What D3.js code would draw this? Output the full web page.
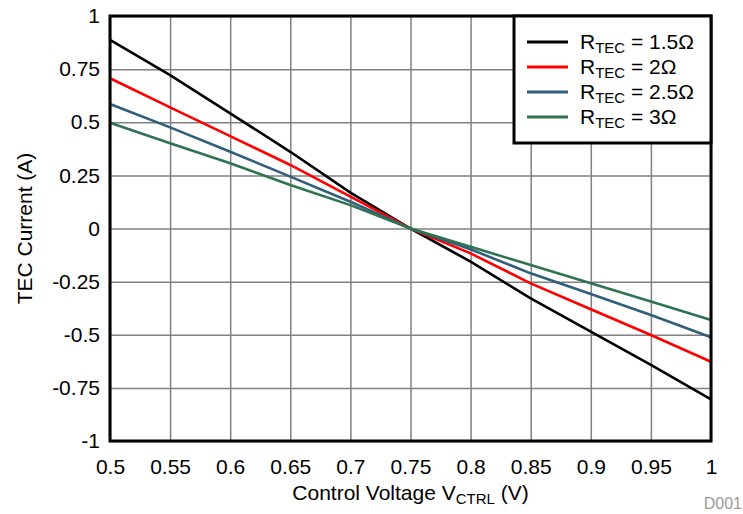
<!DOCTYPE html>
<html>
<head>
<meta charset="utf-8">
<script src="https://cdn.jsdelivr.net/npm/d3@7"></script>
<style>
  body { margin: 0; background: #fff; }
  text { font-family: Arial, "Liberation Sans", sans-serif; }
</style>
</head>
<body>
<div id="chart"></div>
<script>
const voltage = [0.5, 0.55, 0.6, 0.65, 0.7, 0.75, 0.8, 0.85, 0.9, 0.95, 1];
const r15 = [0.888, 0.722, 0.542, 0.361, 0.169, 0, -0.156, -0.329, -0.485, -0.642, -0.804];
const r20 = [0.707, 0.570, 0.435, 0.299, 0.150, 0, -0.117, -0.258, -0.380, -0.501, -0.627];
const r25 = [0.586, 0.476, 0.361, 0.244, 0.126, 0, -0.098, -0.211, -0.308, -0.407, -0.512];
const r30 = [0.498, 0.401, 0.307, 0.205, 0.110, 0, -0.086, -0.172, -0.258, -0.344, -0.431];
const seriesNames = ['1.5\u03A9', '2\u03A9', '2.5\u03A9', '3\u03A9'];
const seriesColors = ['#000000', '#ff0000', '#2f5f7c', '#2e7450'];
const xTicks = [0.5, 0.55, 0.6, 0.65, 0.7, 0.75, 0.8, 0.85, 0.9, 0.95, 1];
const xTickLabels = ['0.5', '0.55', '0.6', '0.65', '0.7', '0.75', '0.8', '0.85', '0.9', '0.95', '1'];
const yTicks = [1, 0.75, 0.5, 0.25, 0, -0.25, -0.5, -0.75, -1];
const yTickLabels = ['1', '0.75', '0.5', '0.25', '0', '-0.25', '-0.5', '-0.75', '-1'];

const W = 743, H = 514;
const MARGIN = { TOP: 16, BOTTOM: 73, LEFT: 110, RIGHT: 32 };
const WIDTH = W - MARGIN.LEFT - MARGIN.RIGHT;
const HEIGHT = H - MARGIN.TOP - MARGIN.BOTTOM;
const FONT = 21;
const SUB = 15;

const svg = d3.select('#chart').append('svg')
  .attr('width', W)
  .attr('height', H);

const g = svg.append('g')
  .attr('transform', `translate(${MARGIN.LEFT}, ${MARGIN.TOP})`);

const x = d3.scaleLinear().domain([0.5, 1]).range([0, WIDTH]);
const y = d3.scaleLinear().domain([-1, 1]).range([HEIGHT, 0]);

// grid
const xGrid = g.append('g')
  .attr('transform', `translate(0, ${HEIGHT})`)
  .call(d3.axisBottom(x).tickValues(xTicks).tickSize(-HEIGHT).tickFormat(''));
const yGrid = g.append('g')
  .call(d3.axisLeft(y).tickValues(yTicks).tickSize(-WIDTH).tickFormat(''));
[xGrid, yGrid].forEach(a => {
  a.select('.domain').remove();
  a.selectAll('line').attr('stroke', '#808080').attr('stroke-width', 1.5);
});

// tick labels
const xAxis = g.append('g')
  .attr('transform', `translate(0, ${HEIGHT})`)
  .call(d3.axisBottom(x).tickValues(xTicks).tickSize(0).tickPadding(18)
    .tickFormat((d, i) => xTickLabels[i]));
const yAxis = g.append('g')
  .call(d3.axisLeft(y).tickValues(yTicks).tickSize(0).tickPadding(10)
    .tickFormat((d, i) => yTickLabels[i]));
[xAxis, yAxis].forEach(a => {
  a.select('.domain').remove();
  a.selectAll('text').attr('font-size', FONT).attr('fill', '#000')
    .style('font-family', 'Arial, "Liberation Sans", sans-serif');
});

// lines
const allSeries = [r15, r20, r25, r30];
const line = d3.line()
  .x((d, i) => x(voltage[i]))
  .y(d => y(d));
g.selectAll('path.series')
  .data(allSeries)
  .enter().append('path')
    .attr('class', 'series')
    .attr('d', line)
    .attr('fill', 'none')
    .attr('stroke', (d, i) => seriesColors[i])
    .attr('stroke-width', 2.6);

// plot border
g.append('rect')
  .attr('width', WIDTH)
  .attr('height', HEIGHT)
  .attr('fill', 'none')
  .attr('stroke', '#000')
  .attr('stroke-width', 3);

// legend
const legend = g.append('g')
  .attr('transform', `translate(${WIDTH - 197}, 0)`);
legend.append('rect')
  .attr('width', 197)
  .attr('height', 127)
  .attr('fill', '#fff')
  .attr('stroke', '#000')
  .attr('stroke-width', 3);
seriesNames.forEach((name, i) => {
  const ly = 26 + i * 25;
  legend.append('line')
    .attr('x1', 13).attr('x2', 54)
    .attr('y1', ly).attr('y2', ly)
    .attr('stroke', seriesColors[i])
    .attr('stroke-width', 3);
  const t = legend.append('text')
    .attr('x', 66)
    .attr('y', ly + 7)
    .attr('font-size', FONT);
  t.append('tspan').text('R');
  t.append('tspan').attr('font-size', SUB).attr('dy', 4).text('TEC');
  t.append('tspan').attr('dy', -4).text(' = ' + name);
});

// axis titles
const xt = svg.append('text')
  .attr('x', MARGIN.LEFT + WIDTH / 2)
  .attr('y', 500)
  .attr('text-anchor', 'middle')
  .attr('font-size', FONT);
xt.append('tspan').text('Control Voltage V');
xt.append('tspan').attr('font-size', SUB).attr('dy', 4).text('CTRL');
xt.append('tspan').attr('dy', -4).text(' (V)');

svg.append('text')
  .attr('transform', `translate(32, ${MARGIN.TOP + HEIGHT / 2}) rotate(-90)`)
  .attr('text-anchor', 'middle')
  .attr('font-size', FONT)
  .text('TEC Current (A)');

svg.append('text')
  .attr('x', 742)
  .attr('y', 509)
  .attr('text-anchor', 'end')
  .attr('font-size', 16)
  .attr('fill', '#999')
  .text('D001');
</script>
</body>
</html>
